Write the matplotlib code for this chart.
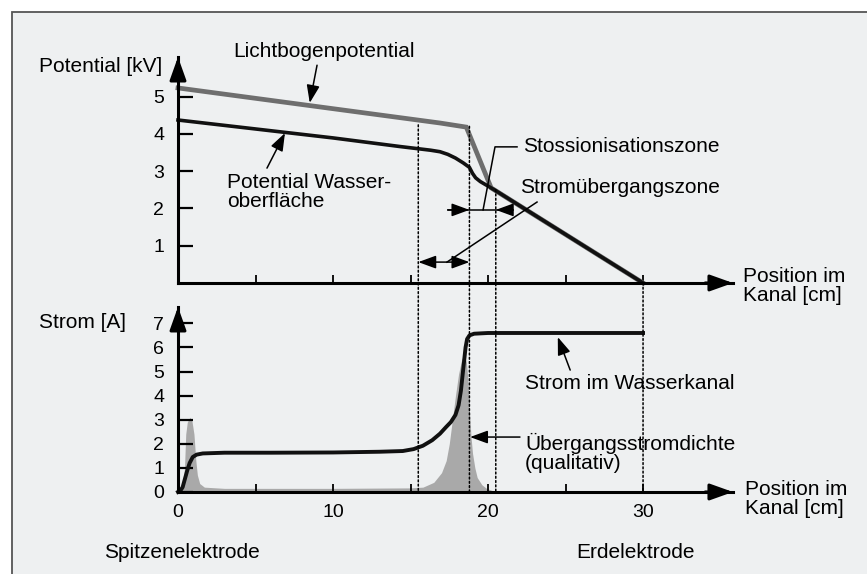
import matplotlib.pyplot as plt
from matplotlib.patches import ConnectionPatch, Rectangle

plt.rcParams['font.family'] = ['Liberation Sans', 'DejaVu Sans']

# upper panel: potentials [kV] along the channel [cm]
arc_x = [0, 16.9, 18.6, 20.2, 30]
arc_kv = [5.23, 4.29, 4.18, 2.55, 0]
water_x = [0, 5, 10, 14.3, 15.5, 16.3, 16.9, 17.4, 17.9, 18.4, 18.8, 19.0, 19.2, 19.5, 20.4, 30]
water_kv = [4.37, 4.13, 3.89, 3.66, 3.6, 3.56, 3.52, 3.45, 3.35, 3.22, 3.1, 2.94, 2.82, 2.72, 2.5, 0]

# lower panel: current [A] and transfer current density (qualitative)
cur_x = [0, 0.15, 0.3, 0.45, 0.6, 0.75, 0.95, 1.2, 1.6, 3, 6, 10, 13, 14.5, 15.2, 15.8,
         16.4, 16.9, 17.3, 17.6, 17.9, 18.1, 18.25, 18.35, 18.45, 18.55, 18.65, 18.8,
         19.1, 20, 30]
cur_a = [0, 0.05, 0.2, 0.55, 0.9, 1.2, 1.45, 1.55, 1.6, 1.63, 1.63, 1.64, 1.67, 1.7, 1.78,
         1.92, 2.15, 2.42, 2.7, 2.9, 3.2, 3.6, 4.2, 4.8, 5.4, 6.0, 6.35, 6.5, 6.57, 6.6, 6.6]
dens_x = [0, 0.3, 0.42, 0.5, 0.6, 0.77, 0.9, 1.03, 1.15, 1.25, 1.4, 1.7, 3, 10, 15, 15.8,
          16.5, 17.0, 17.3, 17.5, 17.7, 17.9, 18.1, 18.3, 18.45, 18.6, 18.7, 18.8, 18.9,
          19.0, 19.15, 19.3, 19.6, 19.9, 20.3, 20.6]
dens_a = [0.1, 0.3, 1.0, 2.4, 2.9, 3.1, 2.95, 2.4, 1.3, 0.7, 0.35, 0.2, 0.15, 0.15, 0.17, 0.2,
          0.4, 0.8, 1.3, 2.0, 3.0, 4.0, 4.9, 5.5, 5.7, 5.4, 4.7, 3.4, 2.3,
          1.6, 1.0, 0.6, 0.3, 0.15, 0.05, 0]

# zone boundaries (dotted) and where they start in the upper panel
zone_x = [15.5, 18.8, 20.5, 30]
zone_top = [4.24, 4.2, 2.5, 0]

fs = 15

fig = plt.figure(figsize=(8.67, 5.74), dpi=100)
fig.add_artist(Rectangle((12 / 867, -0.2), 1.2, 1.2 - 12 / 574, transform=fig.transFigure,
                         fc='#eef0f1', ec='#555555', lw=1.3, zorder=-10))

ax1 = fig.add_axes([0.2053, 0.5070, 0.6401, 0.3937])
ax2 = fig.add_axes([0.2053, 0.1429, 0.6401, 0.3223])

for ax, ytop in [(ax1, 6.06), (ax2, 7.68)]:
    ax.set_facecolor('none')
    ax.set_xlim(0, 35.8)
    ax.set_ylim(0, ytop)
    for s in ['top', 'right']:
        ax.spines[s].set_visible(False)
    for s in ['left', 'bottom']:
        ax.spines[s].set_linewidth(2.2)
    ax.tick_params(axis='y', direction='in', length=11, width=1.6, pad=10, labelsize=14)
    ax.tick_params(axis='x', direction='in', length=6, width=1.3, pad=9, labelsize=14)
    arrow = dict(arrowstyle='-|>,head_length=0.7,head_width=0.25', mutation_scale=20,
                 color='k', lw=2.2, shrinkA=0, shrinkB=0)
    ax.annotate('', xy=(1, 0), xytext=(0.95, 0), xycoords='axes fraction', arrowprops=arrow)
    ax.annotate('', xy=(0, 1), xytext=(0, 0.9), xycoords='axes fraction', arrowprops=arrow)

ax1.set_xticks([5, 10, 15, 20, 25, 30])
ax1.set_xticklabels([])
ax1.set_yticks([1, 2, 3, 4, 5])
ax2.set_xticks([0, 5, 10, 15, 20, 25, 30])
ax2.set_xticklabels(['0', '', '10', '', '20', '', '30'])
ax2.set_yticks(range(8))

ax1.plot(arc_x, arc_kv, color='#6e6e6e', lw=3.4, solid_joinstyle='miter', clip_on=False)
ax1.plot(water_x, water_kv, color='#111111', lw=2.6, clip_on=False)

ax2.fill_between(dens_x, dens_a, color='#a9a9a9', lw=0)
ax2.plot(cur_x, cur_a, color='#111111', lw=2.8, clip_on=False)

for x, y0 in zip(zone_x, zone_top):
    con = ConnectionPatch(xyA=(x, y0), coordsA=ax1.transData, xyB=(x, 0), coordsB=ax2.transData,
                          linestyle=(0, (1.2, 1.6)), lw=1.1, color='k', shrinkA=0, shrinkB=0)
    fig.add_artist(con)

thin = dict(arrowstyle='-|>,head_length=0.6,head_width=0.22', mutation_scale=18,
            color='k', lw=1.1, shrinkA=0, shrinkB=0)

# upper panel labels
ax1.text(3.55, 6.2, 'Lichtbogenpotential', fontsize=fs, va='center')
ax1.annotate('', xy=(8.5, 4.83), xytext=(8.97, 5.84), arrowprops=thin, annotation_clip=False)
ax1.text(3.16, 2.44, 'Potential Wasser-\noberfläche', fontsize=fs, va='center', linespacing=1.0)
ax1.annotate('', xy=(6.9, 4.02), xytext=(5.74, 3.08), arrowprops=thin)

ax1.text(22.26, 3.65, 'Stossionisationszone', fontsize=fs, va='center')
ax1.plot([21.87, 20.45, 19.68], [3.65, 3.65, 1.96], color='k', lw=1.1)
ax1.plot([17.4, 21.6], [1.96, 1.96], color='k', lw=1.1)
ax1.annotate('', xy=(18.8, 1.96), xytext=(17.4, 1.96), arrowprops=thin)
ax1.annotate('', xy=(20.5, 1.96), xytext=(21.6, 1.96), arrowprops=thin)

ax1.text(22.06, 2.55, 'Stromübergangszone', fontsize=fs, va='center')
ax1.plot([23.16, 17.35], [2.17, 0.56], color='k', lw=1.1)
ax1.annotate('', xy=(15.5, 0.56), xytext=(18.8, 0.56),
             arrowprops=dict(thin, arrowstyle='<|-|>,head_length=0.6,head_width=0.22'))

# lower panel labels
ax2.text(22.4, 4.52, 'Strom im Wasserkanal', fontsize=fs, va='center')
ax2.annotate('', xy=(24.5, 6.43), xytext=(25.3, 5.06), arrowprops=thin)
ax2.text(22.4, 1.62, 'Übergangsstromdichte\n(qualitativ)', fontsize=fs, va='center',
         linespacing=1.0)
ax2.annotate('', xy=(18.84, 2.28), xytext=(22.06, 2.28), arrowprops=thin)

fig.text(39 / 867, 1 - 67 / 574, 'Potential [kV]', fontsize=fs, va='center')
fig.text(39 / 867, 1 - 323 / 574, 'Strom [A]', fontsize=fs, va='center')
fig.text(743 / 867, 1 - 286 / 574, 'Position im\nKanal [cm]', fontsize=fs, va='center',
         linespacing=1.0)
fig.text(745 / 867, 1 - 499 / 574, 'Position im\nKanal [cm]', fontsize=fs, va='center',
         linespacing=1.0)
fig.text(182 / 867, 1 - 553 / 574, 'Spitzenelektrode', fontsize=fs, ha='center', va='center')
fig.text(635 / 867, 1 - 553 / 574, 'Erdelektrode', fontsize=fs, ha='center', va='center')

fig.savefig('out.png', dpi=100)
